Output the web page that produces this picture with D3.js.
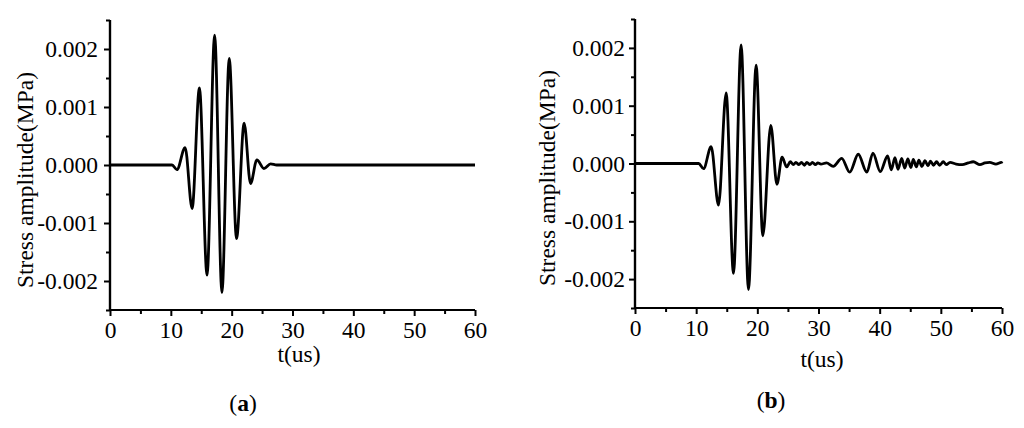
<!DOCTYPE html>
<html>
<head>
<meta charset="utf-8">
<script src="https://cdn.jsdelivr.net/npm/d3@7"></script>
<style>
  html, body { margin: 0; padding: 0; background: #fff; }
  svg { display: block; }
  text { font-family: "Liberation Serif", "Times New Roman", serif; fill: #000; }
</style>
</head>
<body>
<svg id="chart" width="1024" height="428"></svg>
<script>
// ---------- DATA (extrema) ----------
const xTicks = [0, 10, 20, 30, 40, 50, 60];
const yTicks = [-0.002, -0.001, 0.000, 0.001, 0.002];
const yTickLabels = ["-0.002", "-0.001", "0.000", "0.001", "0.002"];

// Panel (a): stress amplitude (MPa) vs t (us)
const tA = [0, 10.2, 11.0, 12.35, 13.5, 14.7, 15.95, 17.2, 18.4, 19.6, 20.8, 22.05, 23.1, 24.15, 25.3, 26.4, 27.4, 60];
const vA = [0, 0, -0.00008, 0.0003, -0.00075, 0.00133, -0.0019, 0.00224, -0.0022, 0.00184, -0.00127, 0.00072, -0.00032, 0.00009, -0.00006, 0.00002, 0, 0];

// Panel (b): stress amplitude (MPa) vs t (us)
const tB = [0, 10.4, 11.2, 12.45, 13.65, 14.9, 16.1, 17.35, 18.55, 19.8, 20.9, 22.2, 23.2, 24.05, 24.8, 25.4,
            25.9, 26.3, 26.8, 27.2, 27.7, 28.1, 28.6, 29.0, 29.5, 29.9, 30.4, 31.3, 32.4, 33.8, 35.1, 36.5, 37.9, 38.9, 40.1,
            41.3, 41.9, 42.5, 43.0, 43.6, 44.1, 44.6, 45.1, 45.5, 46.0, 46.4, 46.9, 47.4, 47.9, 48.3, 48.8, 49.3, 49.8, 50.4, 50.9, 51.5,
            52.5, 53.5, 54.5, 55.3, 56.4, 57.2, 58.0, 59.0, 59.9, 60];
const vB = [0, 0, -0.00009, 0.00029, -0.00072, 0.00122, -0.0019, 0.00205, -0.00218, 0.0017, -0.00125, 0.00066, -0.00036, 0.00011, -0.00006, 0.00003,
            -0.00002, 0.00002, -0.00002, 0.00002, -0.00003, 0.00002, -0.00002, 0.00002, -0.00002, 0.00001, -0.00001, 0.00001, -0.00005, 0.00009, -0.00015, 0.00016, -0.00015, 0.00018, -0.00014,
            0.00013, -0.00011, 0.0001, -0.0001, 0.00009, -0.00008, 0.00008, -0.00007, 0.00007, -0.00006, 0.00006, -0.00005, 0.00005, -0.00004, 0.00004, -0.00003, 0.00003, -0.00003, 0.00003, -0.00002, 0.00002,
            -0.00001, -0.00002, 0.00001, 0.00003, -0.00002, 0.00001, 0.00002, -0.00001, 0.00002, 0];

const xDomain = [0, 60];
const yDomain = [-0.0025, 0.0025];

// ---------- DRAW ----------
const svg = d3.select("#chart");
const FS = "23.5px";

function panel(cfg) {
  const x = d3.scaleLinear().domain(xDomain).range([cfg.left, cfg.right]);
  const y = d3.scaleLinear().domain(yDomain).range([cfg.bottom, cfg.top]);
  const g = svg.append("g");

  const xMinor = d3.range(5, 60, 10);
  const yMinor = [-0.0025, -0.0015, -0.0005, 0.0005, 0.0015, 0.0025];

  const xAxis = d3.axisBottom(x).tickValues(xTicks).tickSize(6).tickPadding(5).tickFormat(d3.format("d"));
  const xAxisMinor = d3.axisBottom(x).tickValues(xMinor).tickSize(4).tickFormat("");
  const yAxis = d3.axisLeft(y).tickValues(yTicks).tickSize(6).tickPadding(cfg.yPad)
      .tickFormat((d, i) => yTickLabels[i]);
  const yAxisMinor = d3.axisLeft(y).tickValues(yMinor).tickSize(4).tickFormat("");

  const gx = g.append("g").attr("class", "xa").attr("transform", `translate(0,${cfg.bottom})`).call(xAxis);
  const gxm = g.append("g").attr("class", "xa").attr("transform", `translate(0,${cfg.bottom})`).call(xAxisMinor);
  const gy = g.append("g").attr("class", "ya").attr("transform", `translate(${cfg.left},0)`).call(yAxis);
  const gym = g.append("g").attr("class", "ya").attr("transform", `translate(${cfg.left},0)`).call(yAxisMinor);

  g.selectAll(".domain").attr("stroke", "#000").attr("stroke-width", 2.2);
  g.selectAll(".tick line").attr("stroke", "#000").attr("stroke-width", 2);
  g.selectAll(".tick text").style("font-size", FS).attr("fill", "#000");
  gx.selectAll(".tick text").attr("dy", "0.71em");
  g.selectAll(".xa .domain").attr("d", `M${cfg.left - 1},0H${cfg.right}`);
  g.selectAll(".ya .domain").attr("d", `M0,${cfg.top}V${cfg.bottom + 1}`);

  const line = d3.line()
    .x((d, i) => x(cfg.t[i]))
    .y((d) => y(d))
    .curve(d3.curveMonotoneX);
  g.append("path")
    .datum(cfg.v)
    .attr("d", line)
    .attr("fill", "none")
    .attr("stroke", "#000")
    .attr("stroke-width", 2.8)
    .attr("stroke-linejoin", "round");

  g.append("text")
    .attr("transform", `translate(${cfg.yLabelX},${cfg.yLabelY}) rotate(-90)`)
    .attr("text-anchor", "middle")
    .style("font-size", FS)
    .text("Stress amplitude(MPa)");
  g.append("text")
    .attr("x", cfg.xLabelX).attr("y", cfg.xLabelY)
    .attr("text-anchor", "middle")
    .style("font-size", FS)
    .text("t(us)");

  const cap = g.append("text")
    .attr("x", cfg.capX).attr("y", cfg.capY)
    .attr("text-anchor", "middle")
    .style("font-size", FS);
  cap.append("tspan").text("(");
  cap.append("tspan").style("font-weight", "bold").text(cfg.cap);
  cap.append("tspan").text(")");
}

panel({ left: 110, right: 475, top: 20, bottom: 310, t: tA, v: vA, yPad: 6,
        yLabelX: 33, yLabelY: 180, xLabelX: 299, xLabelY: 362, capX: 243, capY: 411, cap: "a" });
panel({ left: 635, right: 1002, top: 19, bottom: 308, t: tB, v: vB, yPad: 4,
        yLabelX: 555, yLabelY: 178, xLabelX: 822, xLabelY: 367, capX: 771, capY: 408, cap: "b" });
</script>
</body>
</html>
